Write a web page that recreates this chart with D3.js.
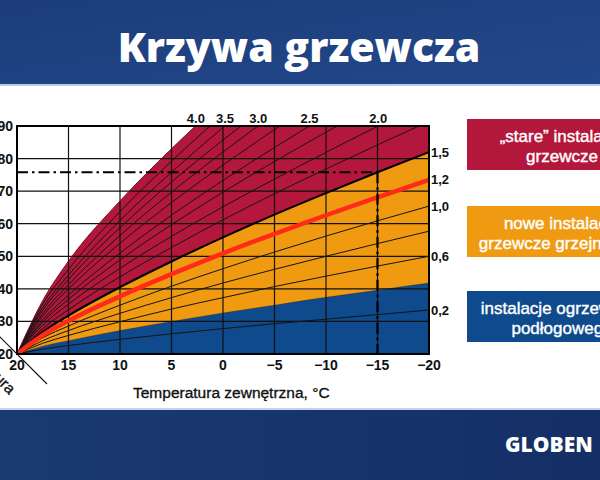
<!DOCTYPE html>
<html><head><meta charset="utf-8">
<script src="https://cdn.jsdelivr.net/npm/d3@7"></script>
<style>html,body{margin:0;padding:0;background:#fff;}svg{display:block;}</style>
</head><body>
<script>
// ---- data ----
const outdoorTemps = [20, 17.5, 15, 10, 5, 0, -5, -10, -15, -20];
const c02  = [20, 21.5, 22.6, 24.5, 26.2, 27.8, 29.3, 30.7, 32.1, 33.5];
const c04  = [20, 22.4, 24.1, 27.2, 30.0, 32.6, 35.0, 37.4, 39.6, 41.8];
const c06  = [20, 23.3, 25.7, 29.9, 33.8, 37.3, 40.7, 43.9, 47.0, 50.0];
const c08  = [20, 24.1, 27.2, 32.5, 37.3, 41.8, 46.0, 50.0, 53.9, 57.7];
const c10  = [20, 25.0, 28.6, 35.0, 40.8, 46.2, 51.3, 56.2, 60.9, 65.4];
const c12  = [20, 25.8, 30.2, 37.7, 44.5, 50.9, 56.9, 62.6, 68.1, 73.5];
const c15  = [20, 26.8, 31.8, 40.5, 48.4, 55.8, 62.8, 69.4, 75.8, 82.0];
const c175 = [20, 27.8, 33.6, 43.7, 52.7, 61.2, 69.2, 76.8, 84.2, 91.4];
const c20  = [20, 28.9, 35.3, 46.3, 56.1, 65.2, 73.7, 81.9, 89.9, 97.5];
const c225 = [20, 29.8, 36.8, 48.9, 59.7, 69.7, 79.1, 88.1, 96.8];
const c25  = [20, 30.5, 38.1, 51.0, 62.6, 73.3, 83.4, 93.1];
const c275 = [20, 31.7, 40.0, 54.0, 66.5, 78.0, 88.9, 99.3];
const c30  = [20, 32.5, 41.3, 56.4, 69.7, 82.0, 93.7];
const c325 = [20, 33.5, 42.9, 58.8, 72.8, 85.7, 97.8];
const c35  = [20, 34.3, 44.2, 61.0, 75.8, 89.5, 102.3];
const c375 = [20, 35.4, 46.0, 63.7, 79.2, 93.5];
const c40  = [20, 36.4, 48.5, 67.0, 83.0, 97.8];

const xTicks = [20, 15, 10, 5, 0, -5, -10, -15, -20];
const yTicks = [20, 30, 40, 50, 60, 70, 80, 90];
const topLabels = ["4.0", "3.5", "3.0", "2.5", "2.0"];
const rightLabels = ["1,5", "1,2", "1,0", "0,6", "0,2"];
const designOutdoor = -15;
const designSupply = 75.8;
const legendLines = [["„stare” instalacje", "grzewcze"], ["nowe instalacje", "grzewcze grzejnikowe"], ["instalacje ogrzewania", "podłogowego"]];
const title = "Krzywa grzewcza";
const xTitle = "Temperatura zewnętrzna, °C";
const diagTitle = "Temperatura";
const brand = "GLOBEN";

const thinCurves = [c02, c04, c06, c08, c10, c175, c20, c225, c25, c275, c30, c325, c35, c375, c40];
const topCurves = [c40, c35, c30, c25, c20];
const rightCurves = [c15, c12, c10, c06, c02];

// ---- layout ----
const W = 600, H = 480;
const x = d3.scaleLinear().domain([20, -20]).range([17, 429]);
const y = d3.scaleLinear().domain([20, 90]).range([354, 126]);
const RED = "#b3173b", ORANGE = "#f09a12", BLUE = "#0e4a8c";
const numFont = "Arial, 'Liberation Sans', sans-serif";

const svg = d3.select("body").append("svg").attr("width", W).attr("height", H);
const defs = svg.append("defs");
const g1 = defs.append("linearGradient").attr("id", "bandTop").attr("x1", 0).attr("y1", 0).attr("x2", 1).attr("y2", 1);
g1.append("stop").attr("offset", "0%").attr("stop-color", "#1c3d7a");
g1.append("stop").attr("offset", "100%").attr("stop-color", "#22478a");
const g2 = defs.append("linearGradient").attr("id", "bandBot").attr("x1", 0).attr("y1", 0).attr("x2", 1).attr("y2", 0);
g2.append("stop").attr("offset", "0%").attr("stop-color", "#1a3a74");
g2.append("stop").attr("offset", "100%").attr("stop-color", "#142f66");
defs.append("clipPath").attr("id", "plotClip").append("rect")
  .attr("x", x(20)).attr("y", y(90)).attr("width", x(-20) - x(20)).attr("height", y(20) - y(90));

// background
svg.append("rect").attr("width", W).attr("height", H).attr("fill", "#fff");
svg.append("rect").attr("x", 0).attr("y", 0).attr("width", W).attr("height", 85).attr("fill", "url(#bandTop)");
svg.append("rect").attr("x", 0).attr("y", 84).attr("width", W).attr("height", 2).attr("fill", "#b8cae6");
svg.append("rect").attr("x", 0).attr("y", 409).attr("width", W).attr("height", 71).attr("fill", "url(#bandBot)");
svg.append("rect").attr("x", 0).attr("y", 408).attr("width", W).attr("height", 2).attr("fill", "#c4d3ea");

svg.append("text").attr("x", 299).attr("y", 62).attr("text-anchor", "middle")
  .attr("font-family", "'Open Sans', sans-serif").attr("font-weight", 800).attr("font-size", 41)
  .attr("fill", "#fff").text(title);

// plot fills
const plot = svg.append("g").attr("clip-path", "url(#plotClip)");
const pts = arr => arr.map((v, i) => [outdoorTemps[i], v]);
const area = d3.area().x(d => x(d[0])).y0(d => y(d[1])).y1(d => y(d[2])).curve(d3.curveMonotoneX);
const line = d3.line().x(d => x(d[0])).y(d => y(d[1])).curve(d3.curveMonotoneX);

plot.append("rect").attr("x", x(20)).attr("y", y(90)).attr("width", x(-20) - x(20)).attr("height", y(20) - y(90)).attr("fill", RED);
plot.append("path").attr("d", area(c40.map((v, i) => [outdoorTemps[i], v, 200]))).attr("fill", "#fff");
plot.append("path").attr("d", area(c15.map((v, i) => [outdoorTemps[i], 20, v]))).attr("fill", ORANGE);
plot.append("path").attr("d", area(c04.map((v, i) => [outdoorTemps[i], 20, v]))).attr("fill", BLUE);

// grid
plot.selectAll(".vg").data(xTicks).join("line")
  .attr("x1", d => x(d)).attr("x2", d => x(d)).attr("y1", y(20)).attr("y2", y(90))
  .attr("stroke", "#111").attr("stroke-width", 1.2);
plot.selectAll(".hg").data(yTicks).join("line")
  .attr("x1", x(20)).attr("x2", x(-20)).attr("y1", d => y(d)).attr("y2", d => y(d))
  .attr("stroke", "#111").attr("stroke-width", 1.2);

// curves
plot.selectAll(".thin").data(thinCurves).join("path")
  .attr("d", d => line(pts(d))).attr("fill", "none")
  .attr("stroke", d => d === c40 ? "#7a0f24" : "#141414")
  .attr("stroke-width", d => d === c04 ? 0.6 : 1).attr("stroke-opacity", d => d === c04 ? 0.5 : 1);
plot.append("path").attr("d", line(pts(c15))).attr("fill", "none").attr("stroke", "#000").attr("stroke-width", 2);
plot.append("path").attr("d", line(pts(c12))).attr("fill", "none").attr("stroke", "#ff2a17").attr("stroke-width", 4.5);

// design point dash-dot
const dash = "11,4,2.5,4";
svg.append("line").attr("x1", x(20)).attr("x2", x(designOutdoor)).attr("y1", y(designSupply)).attr("y2", y(designSupply))
  .attr("stroke", "#000").attr("stroke-width", 2.2).attr("stroke-dasharray", dash);
svg.append("line").attr("x1", x(designOutdoor)).attr("x2", x(designOutdoor)).attr("y1", y(designSupply)).attr("y2", y(20))
  .attr("stroke", "#000").attr("stroke-width", 2.2).attr("stroke-dasharray", dash);

// frame
svg.append("rect").attr("x", x(20)).attr("y", y(90)).attr("width", x(-20) - x(20)).attr("height", y(20) - y(90))
  .attr("fill", "none").attr("stroke", "#000").attr("stroke-width", 2);

// diagonal room-temperature axis
svg.append("line").attr("x1", x(20) - 20).attr("y1", y(20) - 20).attr("x2", x(20) + 30).attr("y2", y(20) + 30)
  .attr("stroke", "#111").attr("stroke-width", 1.1);
svg.append("text").attr("transform", "translate(9,395) rotate(45)").attr("text-anchor", "end")
  .attr("font-family", numFont).attr("font-size", 15.5).attr("fill", "#111")
  .attr("stroke", "#111").attr("stroke-width", 0.35).text(diagTitle);

// axis labels
svg.selectAll(".yl").data(yTicks).join("text")
  .attr("x", 13).attr("y", d => y(d)).attr("dy", "0.36em").attr("text-anchor", "end")
  .attr("font-family", numFont).attr("font-weight", 700).attr("font-size", 14).attr("fill", "#111")
  .text(d => d);
svg.selectAll(".xl").data(xTicks).join("text")
  .attr("x", d => x(d)).attr("y", 370).attr("text-anchor", "middle")
  .attr("font-family", numFont).attr("font-weight", 700).attr("font-size", 14).attr("fill", "#111")
  .text(d => d < 0 ? "\u2212" + Math.abs(d) : d);
svg.append("text").attr("x", 133).attr("y", 398)
  .attr("font-family", numFont).attr("font-size", 15.5).attr("fill", "#111")
  .attr("stroke", "#111").attr("stroke-width", 0.35).text(xTitle);

// top labels at crossing of 90
function crossTop(arr) {
  for (let i = 1; i < arr.length; i++) {
    if (arr[i] >= 90) {
      const t = (90 - arr[i - 1]) / (arr[i] - arr[i - 1]);
      return outdoorTemps[i - 1] + t * (outdoorTemps[i] - outdoorTemps[i - 1]);
    }
  }
  return -20;
}
svg.selectAll(".tl").data(topCurves).join("text")
  .attr("x", d => x(crossTop(d))).attr("y", 123).attr("text-anchor", "middle")
  .attr("font-family", numFont).attr("font-weight", 700).attr("font-size", 13).attr("fill", "#111")
  .text((d, i) => topLabels[i]);
svg.selectAll(".rl").data(rightCurves).join("text")
  .attr("x", 431).attr("y", d => y(d[d.length - 1])).attr("dy", "0.36em")
  .attr("font-family", numFont).attr("font-weight", 700).attr("font-size", 13).attr("fill", "#111")
  .text((d, i) => rightLabels[i]);

// legend boxes
const legendColors = [RED, ORANGE, BLUE];
const legendY = [119, 206, 291];
legendLines.forEach((lines, i) => {
  svg.append("rect").attr("x", 467).attr("y", legendY[i]).attr("width", 200).attr("height", 51).attr("fill", legendColors[i]);
  lines.forEach((t, j) => {
    svg.append("text").attr("x", 562).attr("y", legendY[i] + 23 + j * 20).attr("text-anchor", "middle")
      .attr("font-family", numFont).attr("font-size", 17).attr("fill", "#fff")
      .attr("stroke", "#fff").attr("stroke-width", 0.4).text(t);
  });
});

// brand
svg.append("text").attr("x", 505).attr("y", 452)
  .attr("font-family", "'Open Sans', sans-serif").attr("font-weight", 800).attr("font-size", 21).attr("fill", "#fff").text(brand);
</script>
</body></html>
